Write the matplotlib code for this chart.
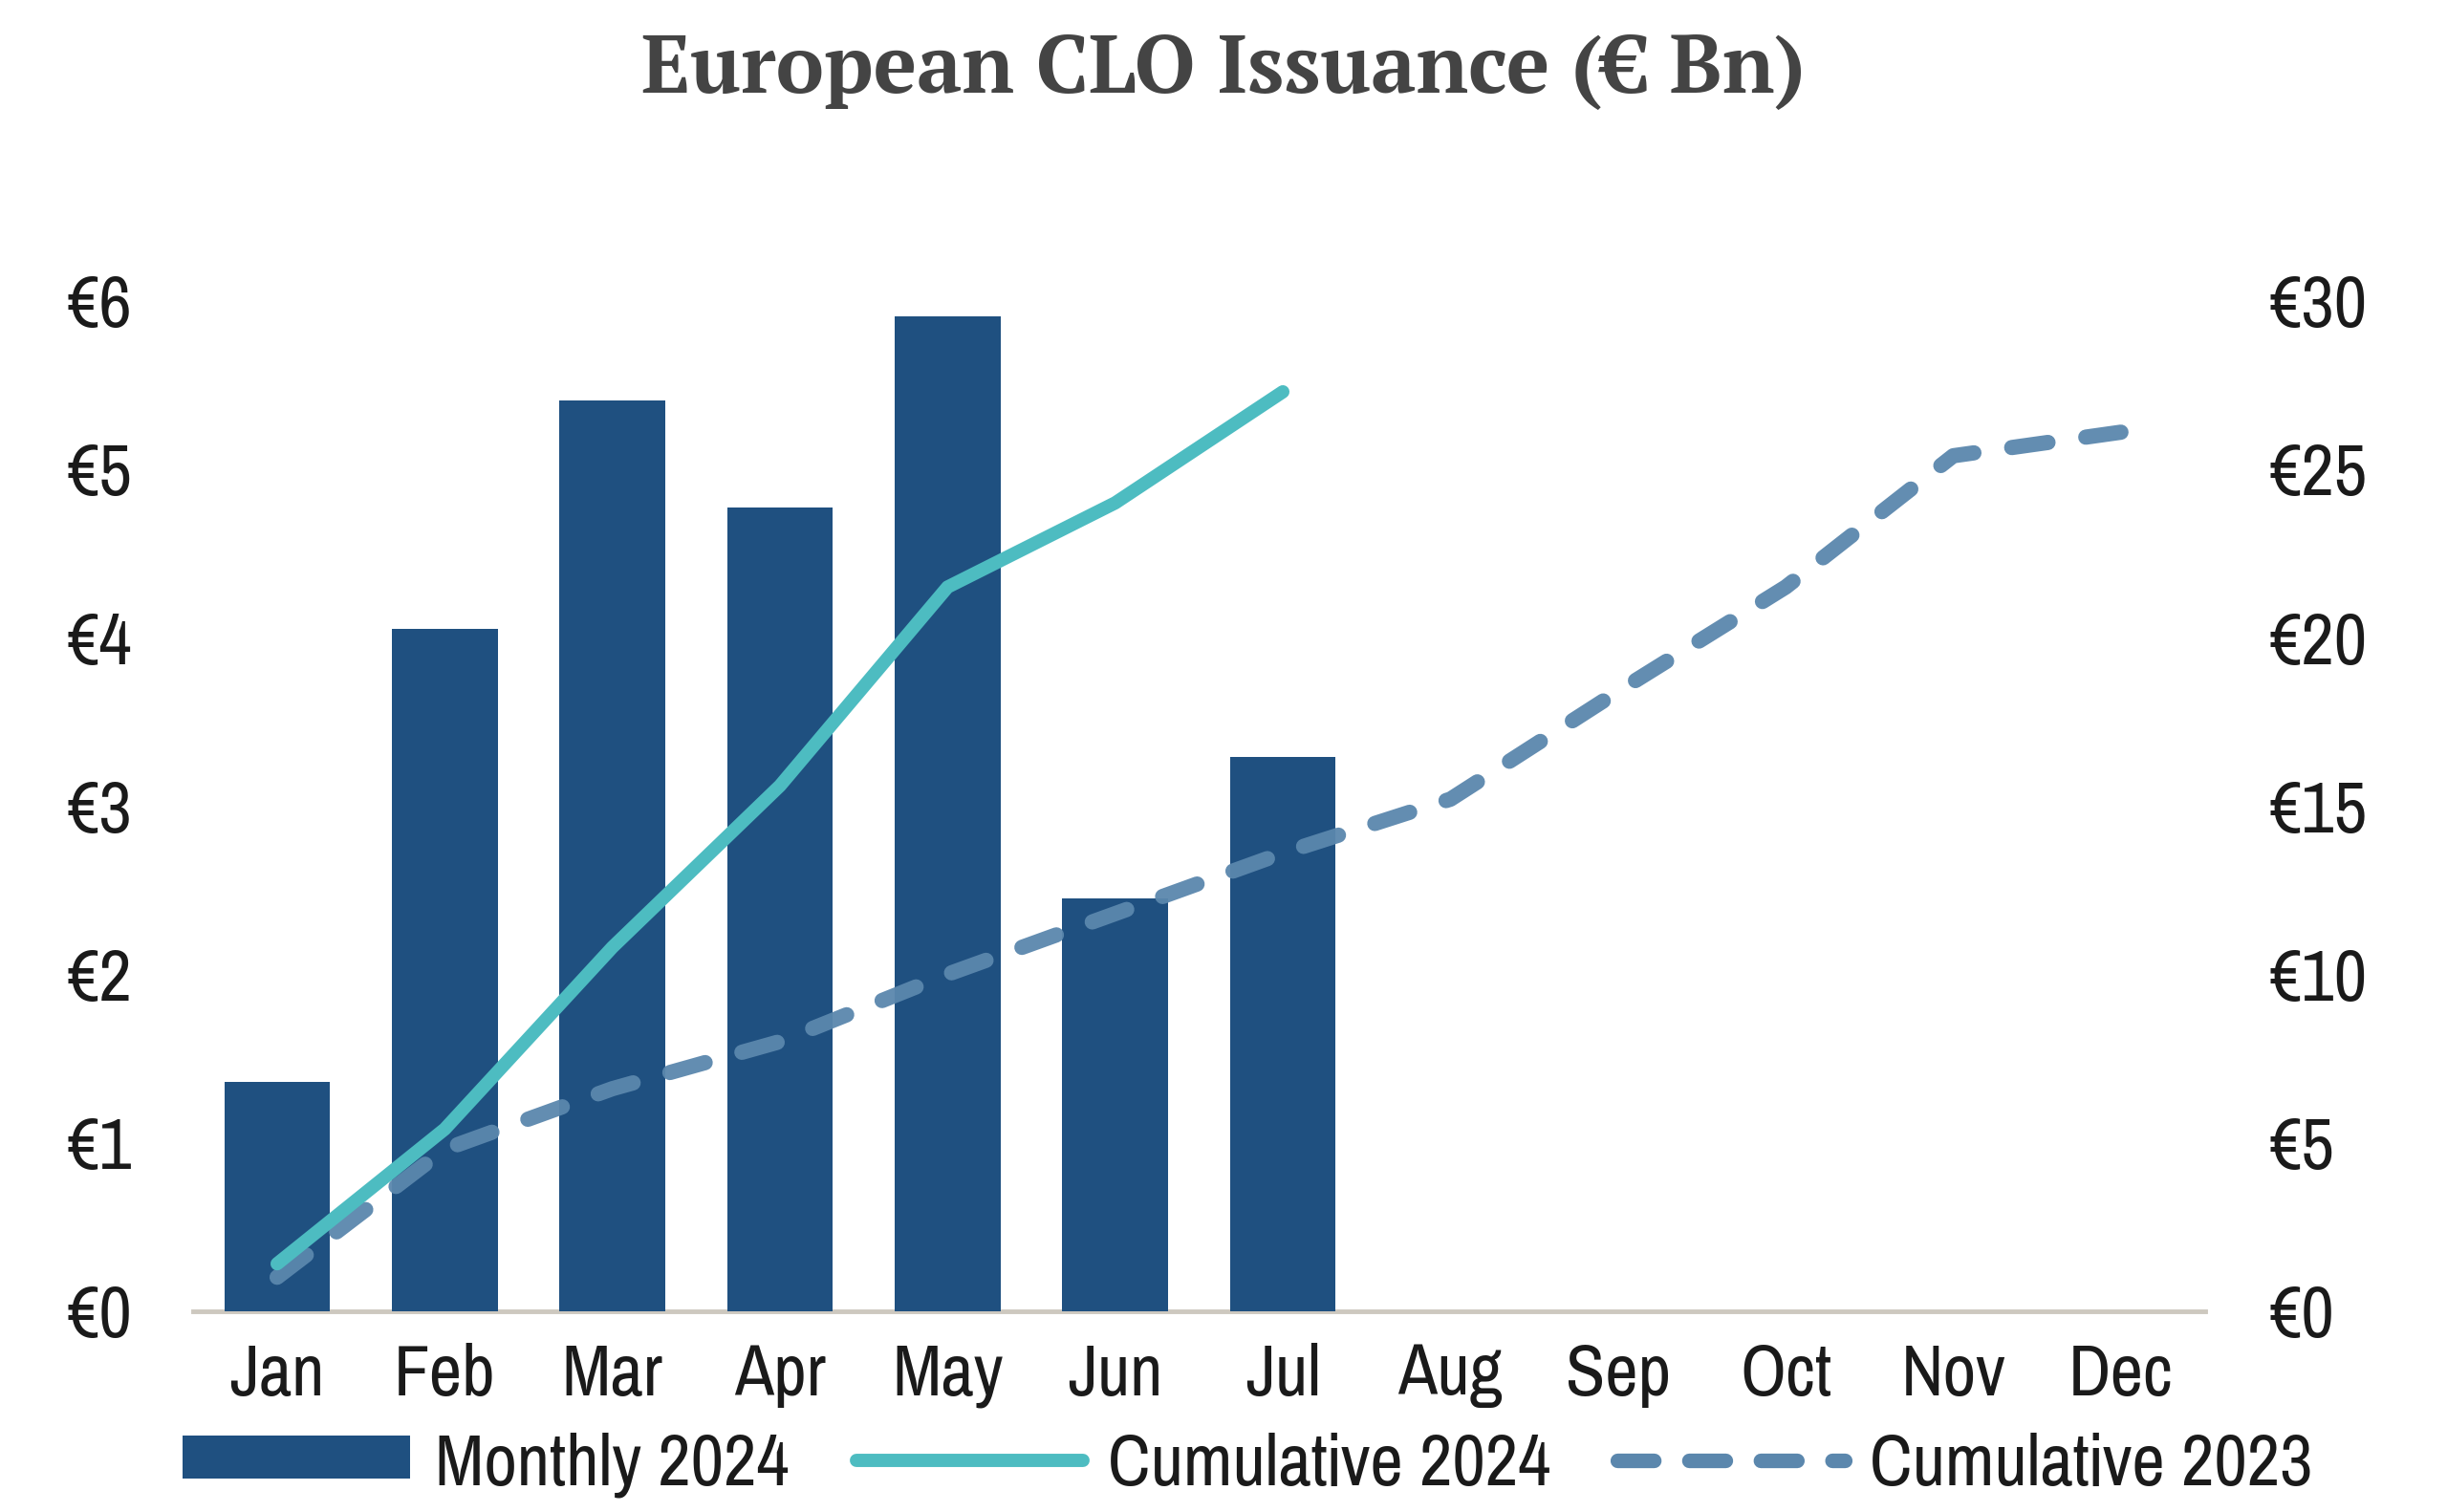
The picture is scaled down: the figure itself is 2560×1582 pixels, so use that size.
import matplotlib
matplotlib.use("Agg")
import matplotlib.pyplot as plt
from matplotlib import font_manager as fm
from matplotlib.lines import Line2D
from matplotlib.patches import Patch

months = ["Jan", "Feb", "Mar", "Apr", "May", "Jun", "Jul",
          "Aug", "Sep", "Oct", "Nov", "Dec"]
monthly_2024 = [1.36, 4.05, 5.41, 4.77, 5.91, 2.45, 3.29]
cumulative_2024 = [1.4, 5.4, 10.8, 15.6, 21.5, 24.0, 27.3]
cumulative_2023 = [1.0, 4.8, 6.6, 8.0, 10.0, 11.8, 13.6, 15.2, 18.4, 21.5, 25.4, 26.1]
left_ticks = [0, 1, 2, 3, 4, 5, 6]
right_ticks = [0, 5, 10, 15, 20, 25, 30]

BAR = "#1f5080"
TEAL = "#4dbcc1"
DASH = "#5b87ad"
TEXT = "#1a1a1a"

# pick a narrow sans (Arial Narrow look) and a bold Georgia-like serif if present
fonts = fm.fontManager.ttflist
installed = {f.name for f in fonts}
bold_installed = {f.name for f in fonts if f.weight in (700, "bold")}


def first_font(names, pool):
    for n in names:
        if n in pool:
            return n
    return names[-1]


narrow = first_font(["Liberation Sans Narrow", "Arial Narrow", "Pragati Narrow",
                     "Roboto Condensed", "Archivo Narrow", "PT Sans Narrow",
                     "Liberation Sans"], installed)
serif = first_font(["Georgia", "PT Serif", "Noto Serif", "Merriweather",
                    "DejaVu Serif"], bold_installed)
label_size = 48 if narrow == "Liberation Sans" else 59

plt.rcParams["font.family"] = [narrow, "DejaVu Sans"]

fig = plt.figure(figsize=(25.6, 15.82), dpi=100)
ax = fig.add_axes([0.079, 0.133, 0.822, 0.668])
ax2 = ax.twinx()

x = list(range(len(months)))
ax.bar(x[:len(monthly_2024)], monthly_2024, width=0.63, color=BAR, zorder=2)

ax2.plot(x[:len(cumulative_2023)], cumulative_2023, color=DASH, lw=11.5,
         dashes=(2.4, 2.5), dash_capstyle="round", alpha=0.95, zorder=3)
ax2.plot(x[:len(cumulative_2024)], cumulative_2024, color=TEAL, lw=10,
         solid_capstyle="round", zorder=4)

ax.set_xlim(-0.5, 11.5)
ax.set_ylim(0, 6)
ax2.set_ylim(0, 30)
ax.set_xticks(x)
ax.set_xticklabels(months)
ax.set_yticks(left_ticks)
ax.set_yticklabels([f"€{v}" for v in left_ticks])
ax2.set_yticks(right_ticks)
ax2.set_yticklabels([f"€{v}" for v in right_ticks])

for a in (ax, ax2):
    for s in ("top", "left", "right", "bottom"):
        a.spines[s].set_visible(False)
ax.spines["bottom"].set_visible(True)
ax.spines["bottom"].set_color("#cdc8bf")
ax.spines["bottom"].set_linewidth(3.5)
ax.spines["bottom"].set_zorder(1)

ax.tick_params(axis="x", length=0, pad=24, labelsize=label_size, labelcolor=TEXT)
ax.tick_params(axis="y", length=0, pad=46, labelsize=label_size, labelcolor=TEXT)
ax2.tick_params(axis="y", length=0, pad=48, labelsize=label_size, labelcolor=TEXT)

fig.suptitle("European CLO Issuance (€ Bn)", y=0.953, va="center",
             fontsize=61, fontweight="bold", color="#444444",
             family=[serif, "DejaVu Serif"])

handles = [
    Patch(facecolor=BAR, edgecolor="none"),
    Line2D([0], [0], color=TEAL, lw=10, solid_capstyle="round"),
    Line2D([0], [0], color=DASH, lw=11, dashes=(2.5, 2.4), dash_capstyle="round"),
]
fig.legend(handles, ["Monthly 2024", "Cumulative 2024", "Cumulative 2023"],
           loc="center", bbox_to_anchor=(0.51, 0.031), ncol=3, frameon=False,
           fontsize=label_size, handlelength=2.9, handleheight=0.45, handletextpad=0.32,
           columnspacing=0.85, labelcolor=TEXT)

fig.savefig("out.png", dpi=100, facecolor="white")
